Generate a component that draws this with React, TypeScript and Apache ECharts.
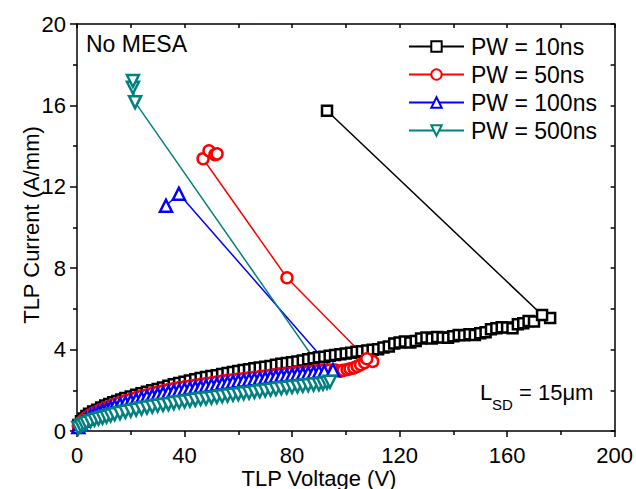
import React, { useEffect, useRef } from "react";
import * as echarts from "echarts";

// TLP voltage (V), TLP current (A/mm) pairs
const pw10: [number, number][] = [
  [0.5, 0.3], [1.5, 0.48], [2.5, 0.62], [3.5, 0.74], [4.5, 0.85], [6, 0.96], [7.5, 1.05], [9, 1.15],
  [10.5, 1.25], [12, 1.33], [13.5, 1.41], [15, 1.48], [16.5, 1.55], [18, 1.62], [20, 1.7], [22, 1.78],
  [24, 1.86], [26, 1.93], [28, 2.0], [30, 2.07], [32, 2.14], [34, 2.22], [36, 2.3], [38, 2.36],
  [40, 2.42], [42, 2.48], [44, 2.54], [46, 2.6], [48, 2.65], [50, 2.7], [52, 2.74], [54, 2.8],
  [56, 2.85], [58, 2.9], [60, 2.95], [62, 3.0], [64, 3.03], [66, 3.08], [68, 3.12], [70, 3.16],
  [72, 3.2], [74, 3.25], [76, 3.3], [78, 3.34], [80, 3.38], [82, 3.42], [84, 3.47], [86, 3.52],
  [88, 3.57], [90, 3.62], [92, 3.65], [94, 3.7], [96, 3.74], [98, 3.77], [100, 3.81], [102, 3.85],
  [104, 3.89], [106, 3.92], [108, 3.95], [110, 3.99], [112, 4.02], [114, 4.1], [116, 4.15], [118, 4.3],
  [120, 4.35], [122, 4.4], [124, 4.35], [126, 4.42], [128, 4.55], [130, 4.6], [132, 4.55], [134, 4.62],
  [136, 4.6], [138, 4.58], [140, 4.65], [142, 4.72], [144, 4.7], [146, 4.75], [148, 4.72], [150, 4.8],
  [152, 4.85], [154, 5.0], [156, 5.05], [158, 5.1], [160, 5.08], [162, 5.05], [164, 5.25], [166, 5.3],
  [168, 5.4], [170, 5.38], [176, 5.55], [173, 5.7], [93, 15.74],
];

const pw50: [number, number][] = [
  [0.5, 0.24], [1.5, 0.42], [2.5, 0.56], [3.5, 0.67], [5, 0.8], [6.5, 0.9], [8, 1.0], [9.5, 1.08],
  [11, 1.16], [12.5, 1.24], [14, 1.31], [16, 1.4], [18, 1.48], [20, 1.56], [22, 1.64], [24, 1.71],
  [26, 1.78], [28, 1.85], [30, 1.91], [32, 1.97], [34, 2.03], [36, 2.08], [38, 2.13], [40, 2.17],
  [42, 2.21], [44, 2.25], [46, 2.29], [48, 2.33], [50, 2.37], [52, 2.41], [54, 2.45], [56, 2.49],
  [58, 2.52], [60, 2.55], [62, 2.58], [64, 2.61], [66, 2.64], [68, 2.67], [70, 2.7], [72, 2.74],
  [74, 2.77], [76, 2.8], [78, 2.83], [80, 2.86], [82, 2.88], [84, 2.9], [86, 2.93], [88, 2.95],
  [90, 2.97], [92, 2.99], [94, 3.0], [96, 3.0], [98, 2.94], [99, 2.98], [100.5, 3.02], [101.6, 3.06],
  [103, 3.1], [104.2, 3.18], [105.5, 3.26], [107, 3.36], [110, 3.42], [107.8, 3.55],
  [78.1, 7.53], [46.9, 13.38], [49.1, 13.77], [51.3, 13.58], [52.1, 13.62],
];

const pw100: [number, number][] = [
  [0.5, 0.2], [1.5, 0.36], [2.5, 0.5], [3.5, 0.6], [5, 0.72], [6.5, 0.82], [8, 0.91], [9.5, 0.99],
  [11, 1.07], [12.5, 1.15], [14, 1.22], [16, 1.31], [18, 1.39], [20, 1.47], [22, 1.54], [24, 1.61],
  [26, 1.68], [28, 1.74], [30, 1.8], [32, 1.86], [34, 1.91], [36, 1.96], [38, 2.0], [40, 2.05],
  [42, 2.09], [44, 2.13], [46, 2.17], [48, 2.21], [50, 2.25], [52, 2.29], [54, 2.33], [56, 2.37],
  [58, 2.41], [60, 2.45], [62, 2.48], [64, 2.51], [66, 2.54], [68, 2.57], [70, 2.6], [72, 2.65],
  [74, 2.68], [76, 2.71], [78, 2.73], [80, 2.76], [82, 2.79], [84, 2.81], [86, 2.84], [88, 2.86],
  [90, 2.9], [92, 2.92], [95.2, 3.0], [37.9, 11.66], [33.1, 11.07],
];

const pw500: [number, number][] = [
  [0.5, 0.15], [1.5, 0.25], [2.5, 0.33], [3.5, 0.4], [5, 0.48], [6.5, 0.55], [8, 0.6], [9.5, 0.65],
  [11, 0.7], [12.5, 0.76], [14, 0.82], [16, 0.88], [18, 0.94], [20, 1.0], [22, 1.05], [24, 1.1],
  [26, 1.15], [28, 1.2], [30, 1.24], [32, 1.28], [34, 1.32], [36, 1.37], [38, 1.41], [40, 1.45],
  [42, 1.49], [44, 1.53], [46, 1.57], [48, 1.6], [50, 1.64], [52, 1.67], [54, 1.71], [56, 1.74],
  [58, 1.78], [60, 1.81], [62, 1.85], [64, 1.88], [66, 1.92], [68, 1.95], [70, 1.99], [72, 2.03],
  [74, 2.06], [76, 2.1], [78, 2.13], [80, 2.16], [82, 2.19], [84, 2.22], [86, 2.25], [88, 2.28],
  [90, 2.3], [91.5, 2.33], [93, 2.37], [94.1, 2.42], [21.6, 16.16], [20.8, 16.87], [20.8, 17.2],
];

const seriesNames = ["PW = 10ns", "PW = 50ns", "PW = 100ns", "PW = 500ns"];
const seriesColors = ["#000000", "#ff0000", "#0000ff", "#008080"];
const xTicks = { min: 0, max: 200, interval: 40 };
const yTicks = { min: 0, max: 20, interval: 4 };
const xTitle = "TLP Voltage (V)";
const yTitle = "TLP Current (A/mm)";
const noteText = "No MESA";

const FONT = "Arial, 'Liberation Sans', sans-serif";

export default function App() {
  const ref = useRef<HTMLDivElement>(null);
  useEffect(() => {
    if (!ref.current) return;
    const chart = echarts.init(ref.current, undefined, { renderer: "svg" });
    const datasets = [pw10, pw50, pw100, pw500];
    const symbols = ["rect", "circle", "triangle", "triangle"];
    const sizes = [10, 11, 12, 12];
    const rotates = [0, 0, 0, 180];
    const axisCommon = {
      axisLine: { show: true, onZero: false, lineStyle: { color: "#000", width: 1.5 } },
      splitLine: { show: false },
      minorSplitLine: { show: false },
    };
    chart.setOption({
      animation: false,
      backgroundColor: "#fff",
      grid: { left: 77, right: 21, top: 24, bottom: 58, containLabel: false },
      textStyle: { fontFamily: FONT },
      legend: {
        orient: "vertical",
        left: 403,
        top: 30,
        itemWidth: 55,
        itemHeight: 13,
        itemGap: 5,
        data: seriesNames,
        textStyle: { fontSize: 23, color: "#000", fontFamily: FONT, lineHeight: 23, padding: [0, 0, 0, 2] },
      },
      xAxis: [
        {
          type: "value",
          position: "bottom",
          ...xTicks,
          ...axisCommon,
          axisTick: { show: true, inside: false, length: 6, lineStyle: { width: 1.5, color: "#000" } },
          minorTick: { show: true, splitNumber: 2, length: 4, lineStyle: { width: 1.5, color: "#000" } },
          axisLabel: { fontSize: 22, color: "#000", margin: 13, fontFamily: FONT },
        },
        {
          type: "value",
          position: "top",
          ...xTicks,
          ...axisCommon,
          axisTick: { show: true, inside: true, length: 4, lineStyle: { width: 1.5, color: "#000" } },
          minorTick: { show: true, splitNumber: 2, length: 4, lineStyle: { width: 1.5, color: "#000" } },
          axisLabel: { show: false },
        },
      ],
      yAxis: [
        {
          type: "value",
          position: "left",
          ...yTicks,
          ...axisCommon,
          axisTick: { show: true, inside: false, length: 7, lineStyle: { width: 1.5, color: "#000" } },
          minorTick: { show: true, splitNumber: 2, length: 4, lineStyle: { width: 1.5, color: "#000" } },
          axisLabel: { fontSize: 22, color: "#000", margin: 11, fontFamily: FONT },
        },
        {
          type: "value",
          position: "right",
          ...yTicks,
          ...axisCommon,
          axisTick: { show: true, inside: true, length: 4, lineStyle: { width: 1.5, color: "#000" } },
          minorTick: { show: true, splitNumber: 2, length: 4, lineStyle: { width: 1.5, color: "#000" } },
          axisLabel: { show: false },
        },
      ],
      series: datasets.map((d, k) => ({
        name: seriesNames[k],
        type: "line",
        xAxisIndex: 0,
        yAxisIndex: 0,
        data: d,
        symbol: symbols[k],
        symbolSize: sizes[k],
        symbolRotate: rotates[k],
        showAllSymbol: true,
        clip: false,
        lineStyle: { color: seriesColors[k], width: 1.5 },
        itemStyle: { color: "#ffffff", borderColor: seriesColors[k], borderWidth: 2.5 },
        emphasis: { disabled: true },
      })),
      graphic: [
        {
          type: "text",
          left: 86,
          top: 32,
          style: { text: noteText, fontSize: 23, fill: "#000", fontFamily: FONT },
        },
        {
          type: "text",
          x: 319,
          y: 478,
          style: { text: xTitle, fontSize: 22, fill: "#000", fontFamily: FONT, align: "center", verticalAlign: "middle" },
        },
        {
          type: "text",
          x: 31,
          y: 225,
          rotation: Math.PI / 2,
          style: { text: yTitle, fontSize: 22, fill: "#000", fontFamily: FONT, align: "center", verticalAlign: "middle" },
        },
        {
          type: "text",
          x: 480,
          y: 392,
          style: { text: "L", fontSize: 22, fill: "#000", fontFamily: FONT, verticalAlign: "middle" },
        },
        {
          type: "text",
          x: 492,
          y: 404,
          style: { text: "SD", fontSize: 15, fill: "#000", fontFamily: FONT, verticalAlign: "middle" },
        },
        {
          type: "text",
          x: 519,
          y: 392,
          style: { text: "= 15μm", fontSize: 22, fill: "#000", fontFamily: FONT, verticalAlign: "middle" },
        },
      ],
    });
    return () => chart.dispose();
  }, []);
  return <div ref={ref} style={{ width: 636, height: 489, position: "absolute", left: 0, top: 0 }} />;
}
